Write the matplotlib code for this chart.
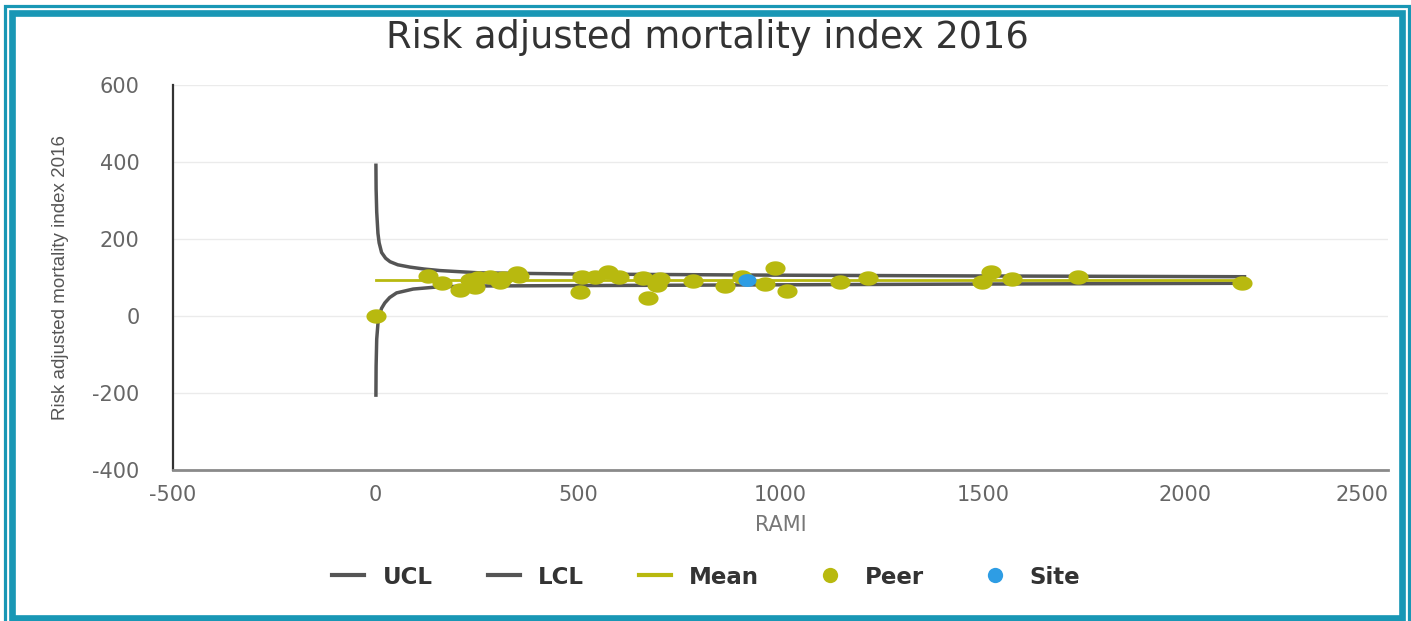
import numpy as np
import matplotlib
matplotlib.use("Agg")
import matplotlib.pyplot as plt
from matplotlib.lines import Line2D
from matplotlib.patches import Rectangle
from matplotlib.path import Path

plt.rcParams["axes.unicode_minus"] = False

# Peer hospitals: RAMI (x) and risk adjusted mortality index (y)
peer_x = [1, 129, 163, 209, 246, 233, 253, 283, 307, 315, 349, 354,
          509, 505, 542, 575, 600, 661, 674, 694, 702, 785, 863, 904,
          962, 986, 1015, 1147, 1217, 1497, 1519, 1571, 1734, 2139]
peer_y = [0, 105, 85, 68, 75, 94, 98, 101, 89, 99, 111, 104,
          102, 63, 102, 115, 102, 98, 46, 81, 95, 91, 78, 102,
          82, 124, 66, 89, 99, 88, 115, 96, 102, 85]

# Our site
site_x = [917]
site_y = [94]

# Control limits read along the funnel
ucl_x = [1, 1.5, 3, 6, 9, 15, 25, 36, 55, 85, 120, 159, 258, 500, 1000, 1500, 2150]
ucl_y = [396, 330, 270, 215, 190, 165, 150, 141, 133, 127, 122, 118, 112, 109, 106, 104, 102]
lcl_x = [1, 1.5, 3, 6, 9, 15, 23, 35, 52, 93, 159, 258, 500, 1000, 1500, 2150]
lcl_y = [-210, -130, -60, -20, 0, 20, 34, 48, 60, 70, 76, 78, 79, 81, 83, 85]

mean_x = [0, 2150]
mean_y = [93.5, 93.5]

x_ticks = [-500, 0, 500, 1000, 1500, 2000, 2500]
y_ticks = [-400, -200, 0, 200, 400, 600]

grey_line = "#555555"
olive = "#b8b90f"
blue = "#2e9de4"
teal = "#1997b5"

W, H = 1411, 621
fig = plt.figure(figsize=(W / 100, H / 100), dpi=100)
fig.patch.set_facecolor("white")

ax = fig.add_axes([173 / W, 1 - 470 / H, (1388 - 173) / W, (470 - 85) / H])

# Wide ellipse marker for the scatter dots
theta = np.linspace(0, 2 * np.pi, 60)
ellipse = Path(np.column_stack([1.4 * np.cos(theta), np.sin(theta)]), closed=True)

ax.plot(ucl_x, ucl_y, color=grey_line, lw=2.5, zorder=3, solid_capstyle="butt")
ax.plot(lcl_x, lcl_y, color=grey_line, lw=2.5, zorder=3, solid_capstyle="butt")
ax.plot(mean_x, mean_y, color=olive, lw=2, zorder=3)
ax.plot(peer_x, peer_y, ls="none", marker=ellipse, ms=14.5,
        color=olive, mec="none", zorder=4)
ax.plot(site_x, site_y, ls="none", marker=ellipse, ms=13,
        color=blue, mec="none", zorder=5)

ax.set_xlim(-500, 2500)
ax.set_ylim(-400, 600)
ax.set_xticks(x_ticks)
ax.set_yticks(y_ticks)
ax.tick_params(axis="both", length=0, labelsize=15, labelcolor="#666666")
ax.tick_params(axis="y", pad=24)
ax.tick_params(axis="x", pad=11)
# keep the last x label inside the plot edge
ax.get_xticklabels()[-1].set_horizontalalignment("right")

ax.yaxis.grid(True, color="#ebebeb", lw=1)
ax.set_axisbelow(True)
for side in ["top", "right"]:
    ax.spines[side].set_visible(False)
ax.spines["left"].set_color("#333333")
ax.spines["left"].set_linewidth(1.6)
ax.spines["bottom"].set_color("#8a8a8a")
ax.spines["bottom"].set_linewidth(2)

ax.set_xlabel("RAMI", fontsize=15, color="#777777", labelpad=7)
ax.set_ylabel("Risk adjusted mortality index 2016", family="Liberation Sans",
              fontsize=13.5, color="#555555", labelpad=17)

fig.text(707 / W, 1 - 37 / H, "Risk adjusted mortality index 2016",
         ha="center", va="center", fontsize=26.5, color="#333333")

handles = [
    Line2D([], [], color=grey_line, lw=3),
    Line2D([], [], color=grey_line, lw=3),
    Line2D([], [], color=olive, lw=3),
    Line2D([], [], ls="none", marker="o", ms=11, color=olive, mec="none"),
    Line2D([], [], ls="none", marker="o", ms=11, color=blue, mec="none"),
]
labels = ["UCL", "LCL", "Mean", "Peer", "Site"]
fig.legend(handles, labels, loc="center", bbox_to_anchor=(706 / W, 1 - 577 / H),
           ncol=5, frameon=False, handlelength=1.4, handletextpad=0.8,
           columnspacing=2.4, prop={"weight": "bold", "size": 16.5},
           labelcolor="#333333")

# Double teal frame round the whole chart
fig.add_artist(Rectangle((4.5 / W, -0.02), (1409 - 4.5) / W, 1 - 5.7 / H + 0.02,
                         transform=fig.transFigure, fill=False,
                         ec=teal, lw=2.3))
fig.add_artist(Rectangle((11.7 / W, 3 / H), (1402 - 11.7) / W, (1 - 13.3 / H) - 3 / H,
                         transform=fig.transFigure, fill=False,
                         ec=teal, lw=4.8))

fig.savefig("out.png", dpi=100)
